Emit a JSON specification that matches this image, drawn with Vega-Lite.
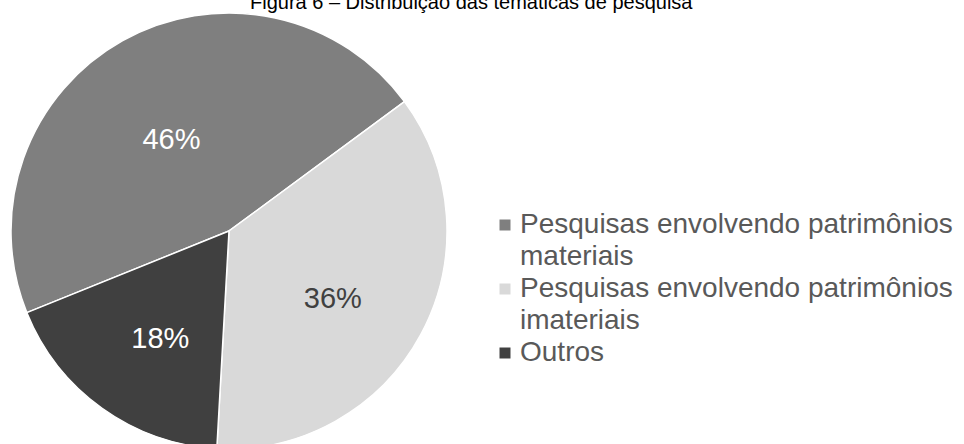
{
  "$schema": "https://vega.github.io/schema/vega-lite/v6.json",
  "autosize": "none",
  "width": 458,
  "height": 436,
  "padding": {"left": 0, "top": 13, "right": 506, "bottom": 0},
  "background": "white",
  "title": {
    "text": "Figura 6 – Distribuição das temáticas de pesquisa",
    "font": "Liberation Sans",
    "fontSize": 20,
    "fontWeight": "normal",
    "color": "#000000",
    "anchor": "start",
    "frame": "group",
    "dx": 250,
    "dy": 23,
    "offset": 0,
    "baseline": "bottom"
  },
  "data": {
    "values": [
      {"cat": "Pesquisas envolvendo patrimônios materiais", "pct": 46, "ord": 3, "label": "46%"},
      {"cat": "Pesquisas envolvendo patrimônios imateriais", "pct": 36, "ord": 1, "label": "36%"},
      {"cat": "Outros", "pct": 18, "ord": 2, "label": "18%"}
    ]
  },
  "encoding": {
    "theta": {"field": "pct", "type": "quantitative", "stack": true, "scale": {"range": [0.9355, 7.2187]}},
    "order": {"field": "ord", "type": "quantitative"}
  },
  "layer": [
    {
      "mark": {"type": "arc", "outerRadius": 218, "stroke": "white", "strokeWidth": 1.5},
      "encoding": {
        "color": {
          "field": "cat",
          "type": "nominal",
          "sort": ["Pesquisas envolvendo patrimônios materiais", "Pesquisas envolvendo patrimônios imateriais", "Outros"],
          "scale": {
            "domain": ["Pesquisas envolvendo patrimônios materiais", "Pesquisas envolvendo patrimônios imateriais", "Outros"],
            "range": ["#7f7f7f", "#d9d9d9", "#404040"]
          },
          "legend": {
            "title": null,
            "orient": "none",
            "legendX": 491,
            "legendY": 198,
            "symbolType": "square",
            "symbolSize": 121,
            "symbolStrokeWidth": 0,
            "labelFont": "Liberation Sans",
            "labelFontSize": 28,
            "labelColor": "#595959",
            "labelLimit": 500,
            "labelOffset": 1,
            "rowPadding": 4,
            "labelExpr": "datum.label == 'Outros' ? 'Outros' : [slice(datum.label, 0, 32), slice(datum.label, 33)]"
          }
        }
      }
    },
    {
      "mark": {"type": "text", "radius": 118, "dy": 12, "font": "Liberation Sans", "fontSize": 29},
      "encoding": {
        "text": {"field": "label"},
        "color": {
          "condition": {"test": "datum.ord === 1", "value": "#404040"},
          "value": "#ffffff"
        }
      }
    }
  ],
  "config": {
    "view": {"stroke": null},
    "style": {"guide-label": {"lineHeight": 32}}
  }
}
